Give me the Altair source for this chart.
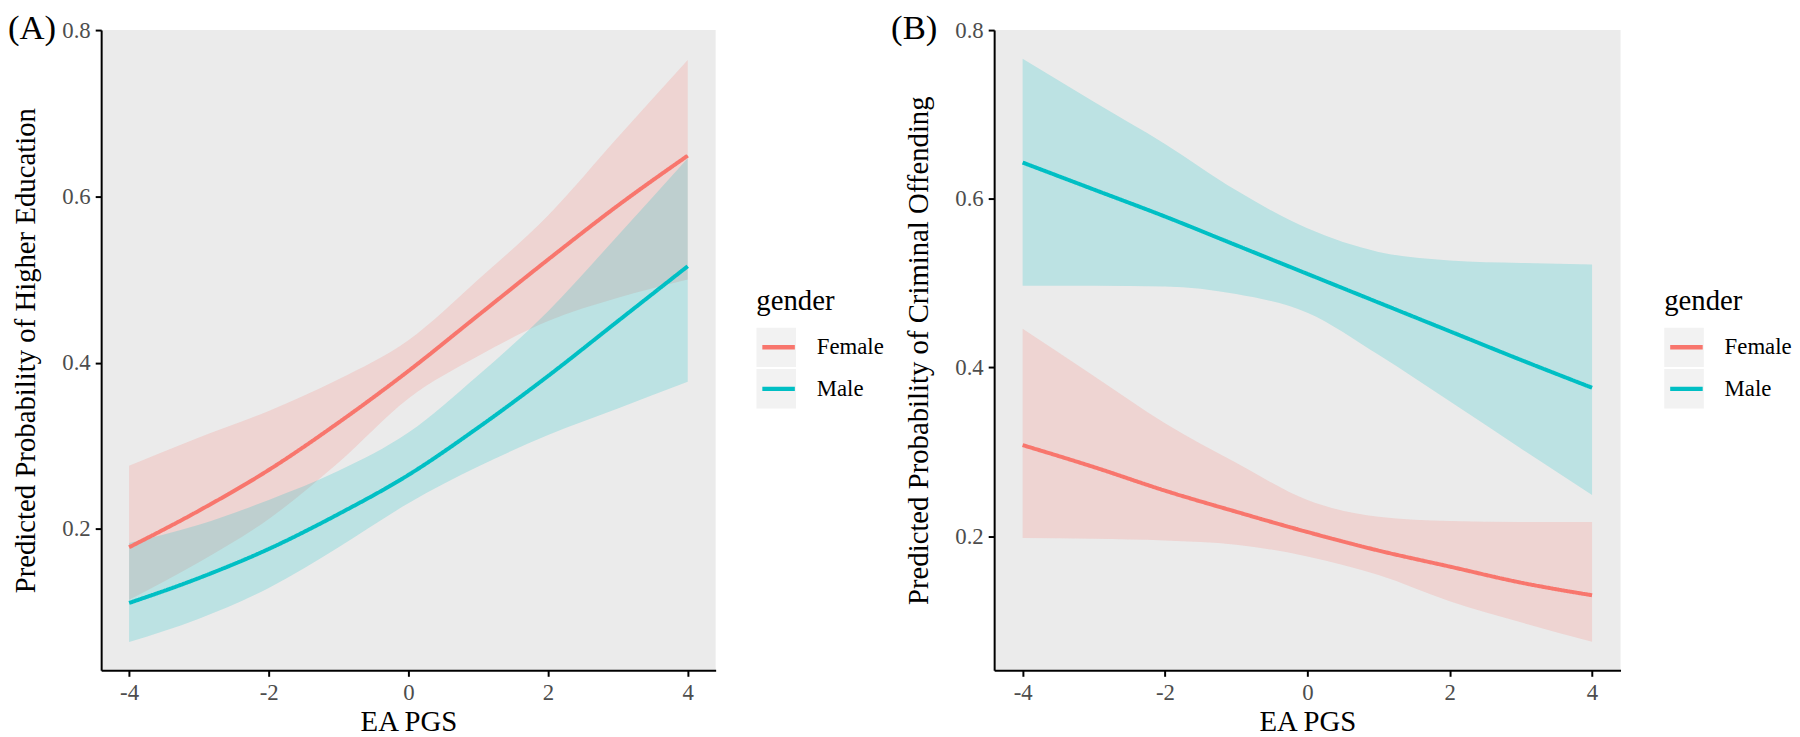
import altair as alt
import pandas as pd

# ---------------- data ----------------
x_vals = [-4, -3, -2, -1, 0, 1, 2, 3, 4]
genders = ["Female", "Male"]

# Panel A: Predicted probability of higher education
a_female_fit = [0.178, 0.222, 0.271, 0.328, 0.390, 0.457, 0.524, 0.589, 0.649]
a_female_lo = [0.115, 0.160, 0.212, 0.280, 0.357, 0.408, 0.450, 0.478, 0.500]
a_female_hi = [0.276, 0.310, 0.342, 0.380, 0.427, 0.500, 0.577, 0.671, 0.764]
a_male_fit = [0.111, 0.141, 0.176, 0.218, 0.265, 0.322, 0.384, 0.450, 0.516]
a_male_lo = [0.064, 0.092, 0.129, 0.178, 0.231, 0.275, 0.313, 0.345, 0.377]
a_male_hi = [0.183, 0.205, 0.235, 0.270, 0.316, 0.385, 0.462, 0.553, 0.646]

# Panel B: Predicted probability of criminal offending
b_female_fit = [0.308, 0.282, 0.254, 0.229, 0.205, 0.183, 0.164, 0.145, 0.130]
b_female_lo = [0.198, 0.197, 0.195, 0.190, 0.176, 0.154, 0.123, 0.098, 0.075]
b_female_hi = [0.446, 0.390, 0.334, 0.287, 0.243, 0.223, 0.218, 0.217, 0.217]
b_male_fit = [0.643, 0.611, 0.579, 0.545, 0.511, 0.477, 0.443, 0.409, 0.376]
b_male_lo = [0.497, 0.497, 0.496, 0.487, 0.465, 0.415, 0.360, 0.304, 0.249]
b_male_hi = [0.766, 0.715, 0.665, 0.610, 0.565, 0.537, 0.527, 0.524, 0.522]

x_ticks = [-4, -2, 0, 2, 4]
y_ticks = [0.2, 0.4, 0.6, 0.8]
colors = ["#F8766D", "#00BFC4"]


def frame(fits, los, his):
    rows = []
    for g, fit, lo, hi in zip(genders, fits, los, his):
        for xv, f, l, h in zip(x_vals, fit, lo, hi):
            rows.append({"x": xv, "fit": f, "lo": l, "hi": h, "gender": g, "gender_bg": g})
    return pd.DataFrame(rows)


df_a = frame([a_female_fit, a_male_fit], [a_female_lo, a_male_lo], [a_female_hi, a_male_hi])
df_b = frame([b_female_fit, b_male_fit], [b_female_lo, b_male_lo], [b_female_hi, b_male_hi])

FONT = "Liberation Serif"
TITLE_BLOCK = 41  # legend title height + padding


def panel(df, ytitle, tag, ydomain, width, height, tag_dx, lx, ly):
    xax = alt.Axis(values=x_ticks, labelExpr="'' + datum.value", title="EA PGS",
                   titlePadding=4)
    yax = alt.Axis(values=y_ticks, format=".1f", title=ytitle, titlePadding=22)
    # legend drawing the coloured lines (on top)
    line_leg = alt.Legend(orient="none", legendX=lx, legendY=ly, title="gender",
                          symbolType="M-0.82,0H0.82", symbolSize=1600, symbolStrokeWidth=4.5,
                          symbolOpacity=1, rowPadding=2, clipHeight=40, labelOffset=16,
                          zindex=1)
    # legend drawing only the light-grey key boxes (underneath)
    bg_leg = alt.Legend(orient="none", legendX=lx, legendY=ly + TITLE_BLOCK, title=None,
                        labelExpr="''",
                        symbolType="square", symbolSize=1600, symbolStrokeWidth=0,
                        symbolFillColor="#F2F2F2", symbolStrokeColor="#F2F2F2",
                        symbolOpacity=1, rowPadding=2, clipHeight=40, labelOffset=16,
                        zindex=0)
    cscale = alt.Scale(domain=genders, range=colors)
    base = alt.Chart(df).encode(
        x=alt.X("x:Q", scale=alt.Scale(domain=[-4.4, 4.4], nice=False, zero=False), axis=xax)
    )
    band = base.mark_area(opacity=0.2, interpolate="monotone").encode(
        y=alt.Y("lo:Q", scale=alt.Scale(domain=ydomain, nice=False, zero=False), axis=yax),
        y2="hi:Q",
        color=alt.Color("gender:N", scale=cscale, legend=line_leg),
    )
    line = base.mark_line(strokeWidth=4, interpolate="monotone").encode(
        y=alt.Y("fit:Q"),
        color=alt.Color("gender:N", scale=cscale, legend=line_leg),
        strokeDash=alt.StrokeDash("gender_bg:N",
                                  scale=alt.Scale(range=[[1, 0], [1, 0]]),
                                  legend=bg_leg),
    )
    return alt.layer(band, line).properties(
        width=width, height=height,
        title=alt.TitleParams(tag, anchor="start", frame="group", dx=tag_dx, offset=-27,
                              font=FONT, fontSize=35, fontWeight="normal", color="black"),
    )


pa = panel(df_a, "Predicted Probability of Higher Education", "(A)", [0.03, 0.8], 620, 646, -94, 661, 259)
pb = panel(df_b, "Predicted Probability of Criminal Offending", "(B)", [0.041, 0.8], 632, 646, -104, 676, 259)

chart = (
    alt.hconcat(pa, pb, spacing=7)
    .resolve_scale(color="independent", strokeDash="independent")
    .resolve_legend(color="independent", strokeDash="independent")
    .configure(padding=0, background="white")
    .configure_view(fill="#EBEBEB", stroke=None)
    .configure_axis(
        grid=False, domainColor="black", domainWidth=2, tickColor="black", tickWidth=2,
        tickSize=6, labelColor="#4D4D4D", labelFont=FONT, labelFontSize=23, labelPadding=5,
        titleFont=FONT, titleFontSize=29, titleFontWeight="normal", titleColor="black",
    )
    .configure_legend(
        titleFont=FONT, titleFontSize=29, titleFontWeight="normal", titleColor="black",
        labelFont=FONT, labelFontSize=23, labelColor="black", titlePadding=12,
    )
)

chart.save("out.html", embed_options={"renderer": "svg", "actions": False})
